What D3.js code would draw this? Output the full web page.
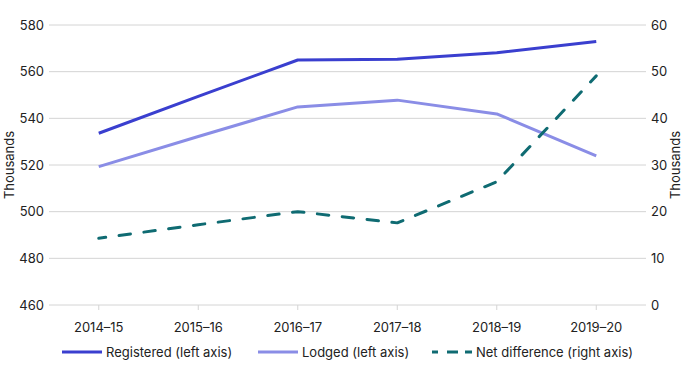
<!DOCTYPE html>
<html><head><meta charset="utf-8">
<script src="https://cdn.jsdelivr.net/npm/d3@7"></script>
<style>html,body{margin:0;padding:0;background:#fff;}svg{display:block;font-family:Inter, "Noto Sans", sans-serif;}</style>
</head><body><svg id="c" width="689" height="379"></svg>
<script>
const categories = ["2014–15","2015–16","2016–17","2017–18","2018–19","2019–20"];
const registered = [533.6, 549.4, 565.0, 565.3, 568.1, 572.9];
const lodged = [519.3, 532.2, 544.9, 547.8, 541.9, 523.9];
const netDifference = [14.3, 17.2, 20.0, 17.6, 26.4, 49.1];
const leftTicks = [460,480,500,520,540,560,580];
const rightTicks = [0,10,20,30,40,50,60];
const seriesNames = ["Registered (left axis)","Lodged (left axis)","Net difference (right axis)"];

const svg = d3.select("#c");
const m = {l:49, r:646, t:25, b:305};
const x = d3.scalePoint().domain(categories).range([m.l, m.r]).padding(0.5);
const yL = d3.scaleLinear().domain([460,580]).range([m.b, m.t]);
const yR = d3.scaleLinear().domain([0,60]).range([m.b, m.t]);

// gridlines
svg.append("g").selectAll("line").data(leftTicks).join("line")
  .attr("x1", m.l).attr("x2", m.r)
  .attr("y1", d=>yL(d)).attr("y2", d=>yL(d))
  .attr("stroke", "#d4d4d4").attr("stroke-width", 1);

// axis labels
svg.append("g").selectAll("text").data(leftTicks).join("text")
  .attr("x", 44).attr("y", d=>yL(d)).attr("dy","0.35em")
  .attr("text-anchor","end").attr("font-size",13).attr("fill","#222")
  .text(d=>d);
svg.append("g").selectAll("text").data(rightTicks).join("text")
  .attr("x", 651).attr("y", d=>yR(d)).attr("dy","0.35em")
  .attr("text-anchor","start").attr("font-size",13).attr("fill","#222")
  .text(d=>d);

// x ticks
svg.append("g").selectAll("line").data(categories).join("line")
  .attr("x1", d=>x(d)).attr("x2", d=>x(d)).attr("y1", m.b).attr("y2", m.b+5)
  .attr("stroke","#d4d4d4");
svg.append("g").selectAll("text").data(categories).join("text")
  .attr("x", d=>x(d)).attr("y", 327).attr("dy","0.35em")
  .attr("text-anchor","middle").attr("font-size",13).attr("fill","#222")
  .text(d=>d);

// axis titles
svg.append("text").attr("transform","translate(14,165) rotate(-90)")
  .attr("text-anchor","middle").attr("font-size",13).attr("fill","#222").text("Thousands");
svg.append("text").attr("transform","translate(680,165) rotate(-90)")
  .attr("text-anchor","middle").attr("font-size",13).attr("fill","#222").text("Thousands");

const colors = ["#3a3fcf","#8a8de6","#0f6b72"];
const lineL = d3.line().x((d,i)=>x(categories[i])).y(d=>yL(d));
const lineR = d3.line().x((d,i)=>x(categories[i])).y(d=>yR(d));

svg.append("path").datum(lodged).attr("d", lineL).attr("fill","none")
  .attr("stroke", colors[1]).attr("stroke-width",3).attr("stroke-linejoin","round");
svg.append("path").datum(registered).attr("d", lineL).attr("fill","none")
  .attr("stroke", colors[0]).attr("stroke-width",3).attr("stroke-linejoin","round");
svg.append("path").datum(netDifference).attr("d", lineR).attr("fill","none")
  .attr("stroke", colors[2]).attr("stroke-width",3).attr("stroke-dasharray","11.5,13.5")
  .attr("stroke-dashoffset", 4.5)
  .attr("stroke-linejoin","round").attr("stroke-linecap","round");

// legend
const legX = [62, 258, 432];
const lg = svg.append("g");
seriesNames.forEach((n,i)=>{
  lg.append("line").attr("x1", legX[i]).attr("x2", legX[i]+40).attr("y1",352).attr("y2",352)
    .attr("stroke", colors[i]).attr("stroke-width",3)
    .attr("stroke-dasharray", i===2 ? "6,9,11,7,7" : null);
  lg.append("text").attr("x", legX[i]+44).attr("y",352).attr("dy","0.35em")
    .attr("font-size",13).attr("fill","#222").text(n);
});
</script></body></html>
